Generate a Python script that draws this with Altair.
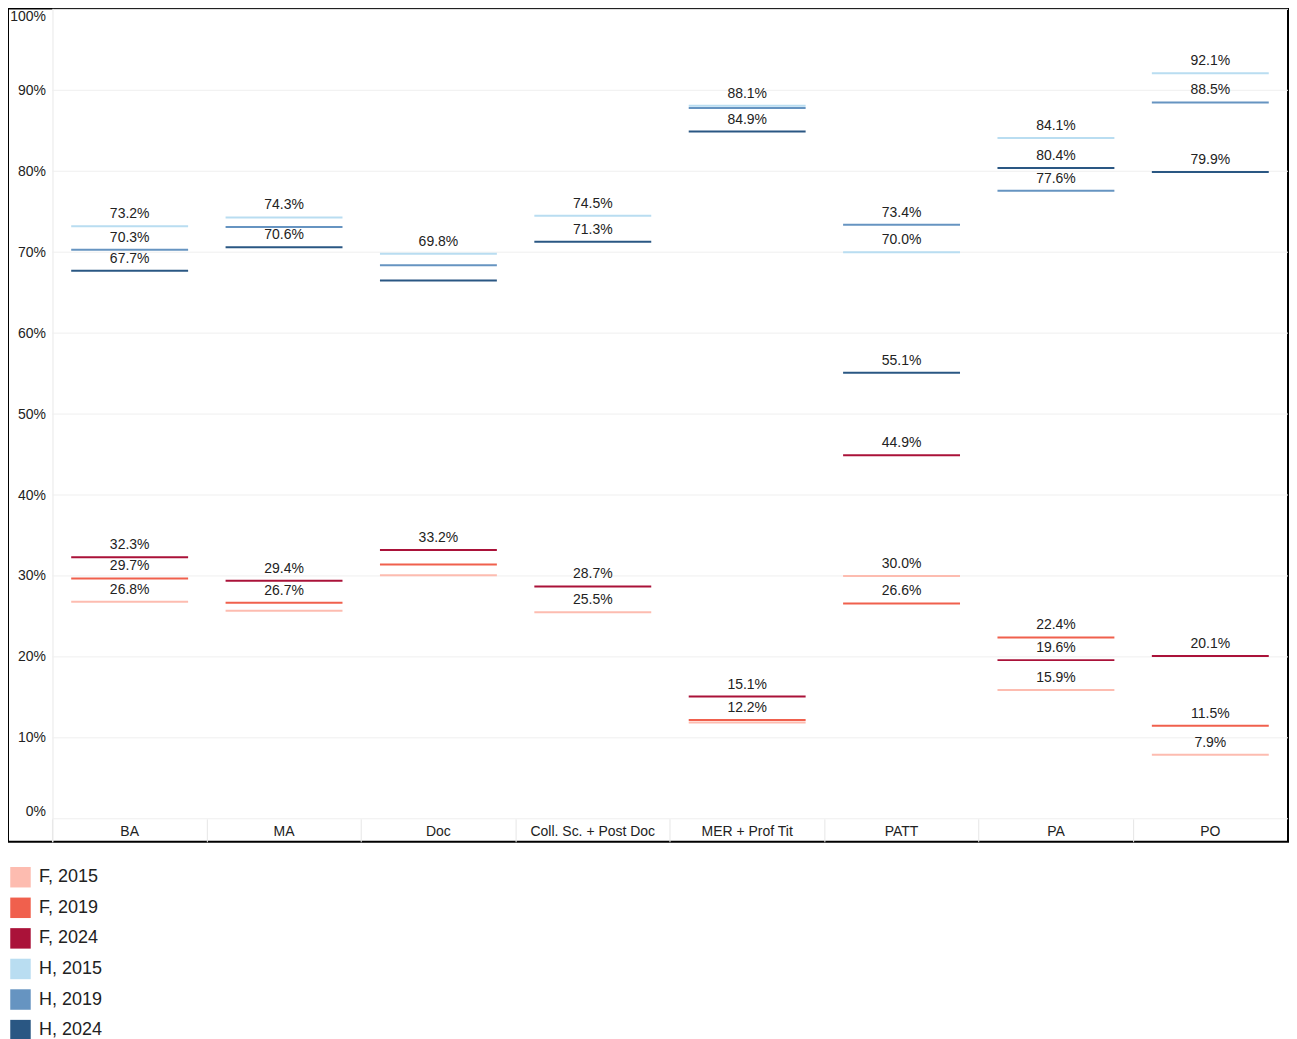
import altair as alt
import pandas as pd

categories = ["BA", "MA", "Doc", "Coll. Sc. + Post Doc", "MER + Prof  Tit", "PATT", "PA", "PO"]
series_names = ["F, 2015", "F, 2019", "F, 2024", "H, 2015", "H, 2019", "H, 2024"]
series_colors = ["#fdbcb0", "#f0604d", "#aa1239", "#b9ddf1", "#6694c1", "#2a5783"]

f_2015 = [26.8, 25.7, 30.1, 25.5, 11.9, 30.0, 15.9, 7.9]
f_2019 = [29.7, 26.7, 31.4, None, 12.2, 26.6, 22.4, 11.5]
f_2024 = [32.3, 29.4, 33.2, 28.7, 15.1, 44.9, 19.6, 20.1]
h_2015 = [73.2, 74.3, 69.8, 74.5, 88.1, 70.0, 84.1, 92.1]
h_2019 = [70.3, 73.1, 68.4, None, 87.8, 73.4, 77.6, 88.5]
h_2024 = [67.7, 70.6, 66.5, 71.3, 84.9, 55.1, 80.4, 79.9]

# which values carry a visible data label
f_2015_lab = [1, 0, 0, 1, 0, 1, 1, 1]
f_2019_lab = [1, 1, 0, 0, 1, 1, 1, 1]
f_2024_lab = [1, 1, 1, 1, 1, 1, 1, 1]
h_2015_lab = [1, 1, 1, 1, 1, 1, 1, 1]
h_2019_lab = [1, 0, 0, 0, 0, 1, 1, 1]
h_2024_lab = [1, 1, 0, 1, 1, 1, 1, 1]

y_ticks = [0, 10, 20, 30, 40, 50, 60, 70, 80, 90, 100]

all_vals = [f_2015, f_2019, f_2024, h_2015, h_2019, h_2024]
all_labs = [f_2015_lab, f_2019_lab, f_2024_lab, h_2015_lab, h_2019_lab, h_2024_lab]

rows = []
for name, vals, labs in zip(series_names, all_vals, all_labs):
    for cat, v, l in zip(categories, vals, labs):
        if v is None:
            continue
        rows.append({"cat": cat, "series": name, "value": v,
                     "label": f"{v:.1f}%" if l else ""})
df = pd.DataFrame(rows)
grid_df = pd.DataFrame({"value": y_ticks})

FONT = "Liberation Sans"
FS = 14
W, H = 1281, 834
X0, X1 = 44.5, 1280.5

yscale = alt.Scale(domain=[-2.84, 100.12], nice=False, zero=False)
xscale = alt.Scale(domain=categories, range=[X0, X1], paddingInner=0, paddingOuter=0)

yaxis = alt.Axis(title=None, orient="left", offset=-X0, values=y_ticks,
                 labelExpr="datum.value + '%'", labelFont=FONT, labelFontSize=FS,
                 labelColor="#222", labelPadding=7, ticks=False, grid=False,
                 domain=True, domainColor="#e8e8e8", labelFlush=25, labelFlushOffset=0)

grid = alt.Chart(grid_df).mark_rule(color="#efefef", strokeWidth=1).encode(
    y=alt.Y("value:Q", scale=yscale, axis=yaxis),
    x=alt.value(X0),
    x2=alt.value(W),
)

ticks = alt.Chart(df).mark_tick(thickness=2, size=117, opacity=1).encode(
    x=alt.X("cat:N", sort=categories, scale=xscale,
            axis=alt.Axis(title=None, orient="bottom", offset=-23, labelAngle=0,
                          labelFont=FONT, labelFontSize=FS, labelColor="#222",
                          labelPadding=-17, domain=False, ticks=True, tickColor="#e6e6e6",
                          tickSize=23, bandPosition=0, grid=False)),
    y=alt.Y("value:Q", scale=yscale, axis=yaxis),
    color=alt.Color("series:N", scale=alt.Scale(domain=series_names, range=series_colors),
                    legend=alt.Legend(title=None, orient="none", legendX=2, legendY=859,
                                      symbolType="square", symbolSize=420,
                                      symbolStrokeWidth=0, labelFont=FONT, labelFontSize=18,
                                      labelColor="#222", rowPadding=9.6, labelOffset=8)),
)

labels = alt.Chart(df).transform_filter("datum.label != ''").mark_text(
    dy=-12, fontSize=FS, font=FONT, color="#222", baseline="middle"
).encode(
    x=alt.X("cat:N", sort=categories, scale=xscale),
    y=alt.Y("value:Q", scale=yscale, axis=yaxis),
    text="label:N",
)

chart = alt.layer(grid, ticks, labels).properties(
    width=W, height=H, padding=0
).configure_view(stroke="#000", strokeWidth=2)

chart.save("out.html", embed_options={"renderer": "svg", "actions": False})
